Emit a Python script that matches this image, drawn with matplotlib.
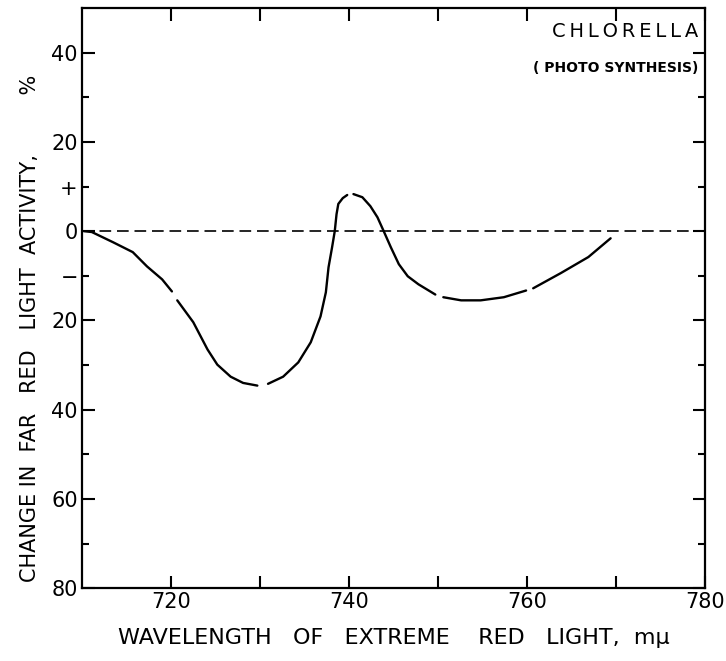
import numpy as np
import matplotlib
matplotlib.use("Agg")
import matplotlib.pyplot as plt
from matplotlib.ticker import FixedLocator

plt.rcParams["font.family"] = ["DejaVu Sans"]

# far-red activity curve, drawn in pieces like the original pen tracing
seg_wavelength = [
    [710.2, 711.1, 713.5, 715.7, 717.3, 719.0, 720.1],
    [720.7, 722.5, 724.1, 725.2, 726.7, 728.1, 729.7],
    [730.9, 732.6, 734.3, 735.7, 736.8, 737.4, 737.7, 738.1, 738.4, 738.6,
     738.8, 739.3, 739.8],
    [740.5, 741.5, 742.4, 743.2, 743.9, 744.7, 745.6, 746.6, 747.8, 749.7],
    [750.6, 752.6, 754.8, 757.4, 759.9],
    [760.7, 763.8, 766.9, 769.4],
]
seg_change = [
    [0.0, -0.2, -2.5, -4.7, -7.9, -10.8, -13.5],
    [-15.5, -20.4, -26.5, -29.9, -32.6, -34.0, -34.6],
    [-34.2, -32.6, -29.4, -24.9, -19.1, -13.7, -8.1, -3.6, 0.0, 3.8,
     6.1, 7.4, 8.1],
    [8.3, 7.6, 5.6, 3.1, 0.0, -3.6, -7.4, -10.1, -11.9, -14.2],
    [-14.8, -15.5, -15.5, -14.8, -13.3],
    [-12.8, -9.4, -5.8, -1.6],
]

x_major = [720, 740, 760, 780]
x_labels = ["720", "740", "760", "780"]
x_minor = [730, 750, 770]
y_major = [40, 20, 0, -20, -40, -60, -80]
y_major_labels = ["40", "20", "0", "20", "40", "60", "80"]
y_minor = [30, 10, -10, -30, -50, -70]
y_minor_labels = ["", "+", "\u2212", "", "", ""]

fig = plt.figure(figsize=(7.26, 6.61), dpi=100)
ax = fig.add_axes([0.113, 0.110, 0.858, 0.878])

for xs, ys in zip(seg_wavelength, seg_change):
    ax.plot(xs, ys, color="black", lw=1.7, solid_capstyle="round",
            solid_joinstyle="round")

ax.axhline(0, color="black", lw=1.2, linestyle=(0, (7, 3.5)))

ax.set_xlim(710, 780)
ax.set_ylim(-80, 50)

ax.xaxis.set_major_locator(FixedLocator(x_major))
ax.set_xticklabels(x_labels)
ax.xaxis.set_minor_locator(FixedLocator(x_minor))
ax.yaxis.set_major_locator(FixedLocator(y_major))
ax.set_yticklabels(y_major_labels)
ax.yaxis.set_minor_locator(FixedLocator(y_minor))
ax.set_yticklabels(y_minor_labels, minor=True)

ax.tick_params(axis="both", which="both", direction="in", width=1.5,
               top=True, right=True, labelsize=15, pad=3, colors="black")
ax.tick_params(axis="x", which="both", length=9)
ax.tick_params(axis="y", which="major", length=9)
ax.tick_params(axis="y", which="minor", length=5)

for sp in ax.spines.values():
    sp.set_linewidth(1.6)

# axis titles, hand-lettered spacing
fig.text(0.1625, 0.035, "WAVELENGTH   OF   EXTREME    RED   LIGHT,  m\u03bc",
         ha="left", va="center", fontsize=16)
fig.text(0.042, 0.1195, "CHANGE IN  FAR   RED   LIGHT  ACTIVITY,         %",
         ha="center", va="bottom", rotation=90, fontsize=15)

ax.text(0.99, 0.959, "C\u2009H\u2009L\u2009O\u2009R\u2009E\u2009L\u2009L\u2009A",
        transform=ax.transAxes, ha="right", va="center", fontsize=14)
ax.text(0.99, 0.897, "( PHOTO SYNTHESIS)", transform=ax.transAxes,
        ha="right", va="center", fontsize=10, fontweight="bold")

fig.savefig("out.png", dpi=100)
